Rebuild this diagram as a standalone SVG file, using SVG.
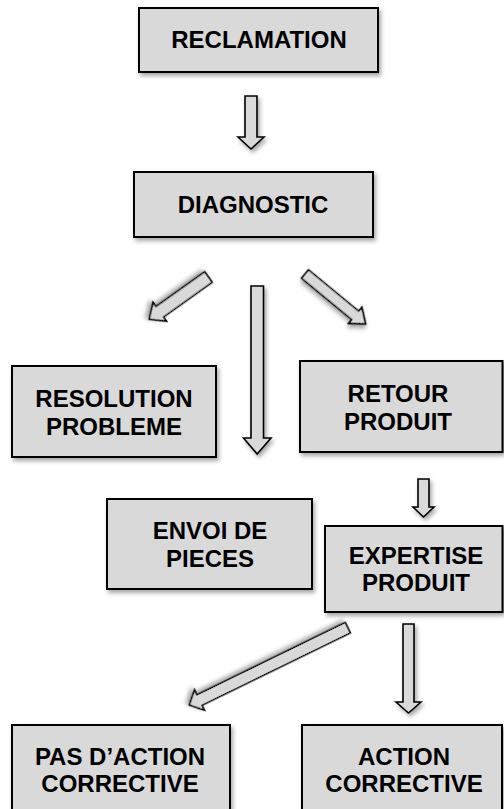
<svg xmlns="http://www.w3.org/2000/svg" width="504" height="809" viewBox="0 0 504 809">
<defs>
<filter id="sh" x="-20%" y="-20%" width="140%" height="150%">
<feDropShadow dx="2" dy="3" stdDeviation="2" flood-color="#000" flood-opacity="0.35"/>
</filter>
<style>
.box{fill:#d9d9d9;stroke:#000;stroke-width:2;filter:url(#sh)}
.arr{fill:#d9d9d9;stroke:#000;stroke-width:1.6;stroke-linejoin:miter;filter:url(#sh)}
.t{font-family:"Liberation Sans",Arial,sans-serif;font-weight:bold;font-size:24px;fill:#000;text-anchor:middle}
</style>
</defs>
<rect width="504" height="809" fill="#fff"/>

<g id="connectors">
<polygon class="arr" points="245,96 257,96 257,137 264,137 251,149 238,137 245,137"/>
<polygon class="arr" transform="translate(208.5,277) rotate(144.5)" points="0,-6.5 59.8,-6.5 59.8,-11.7 72.8,0 59.8,11.7 59.8,6.5 0,6.5"/>
<polygon class="arr" points="251,286 263.5,286 263.5,438 271,438 257.2,454 243.5,438 251,438"/>
<polygon class="arr" transform="translate(305,274) rotate(39.5)" points="0,-5.5 65,-5.5 65,-10.5 78.6,0 65,10.5 65,5.5 0,5.5"/>
<polygon class="arr" points="418,479 429,479 429,507 434,507 423.5,517 413,507 418,507"/>
<polygon class="arr" transform="translate(347.8,627.7) rotate(154)" points="0,-5.75 165,-5.75 165,-11.3 176.3,0 165,11.3 165,5.75 0,5.75"/>
<polygon class="arr" points="403,624 414,624 414,702 421,702 408.5,713 396,702 403,702"/>
</g>

<g id="reclamation">
<rect class="box" x="139" y="8" width="239" height="64"/>
<text class="t" x="259" y="48">RECLAMATION</text>
</g>
<g id="diagnostic">
<rect class="box" x="134" y="172" width="239" height="65"/>
<text class="t" x="253" y="213">DIAGNOSTIC</text>
</g>
<g id="resolution">
<rect class="box" x="12" y="366" width="204" height="91"/>
<text class="t" x="114" y="407">RESOLUTION</text>
<text class="t" x="114" y="435">PROBLEME</text>
</g>
<g id="retour">
<rect class="box" x="300" y="361" width="202.5" height="91"/>
<text class="t" x="398" y="402">RETOUR</text>
<text class="t" x="398" y="430">PRODUIT</text>
</g>
<g id="envoi">
<rect class="box" x="107" y="499" width="205" height="90"/>
<text class="t" x="210" y="539">ENVOI DE</text>
<text class="t" x="210" y="567">PIECES</text>
</g>
<g id="expertise">
<rect class="box" x="325" y="526" width="177.5" height="86"/>
<text class="t" x="416" y="564">EXPERTISE</text>
<text class="t" x="416" y="591">PRODUIT</text>
</g>
<g id="pas-action">
<rect class="box" x="12" y="725" width="218" height="110"/>
<text class="t" x="120" y="765">PAS D’ACTION</text>
<text class="t" x="120" y="792">CORRECTIVE</text>
</g>
<g id="action">
<rect class="box" x="302" y="725" width="200" height="110"/>
<text class="t" x="404" y="765">ACTION</text>
<text class="t" x="404" y="792">CORRECTIVE</text>
</g>
</svg>
